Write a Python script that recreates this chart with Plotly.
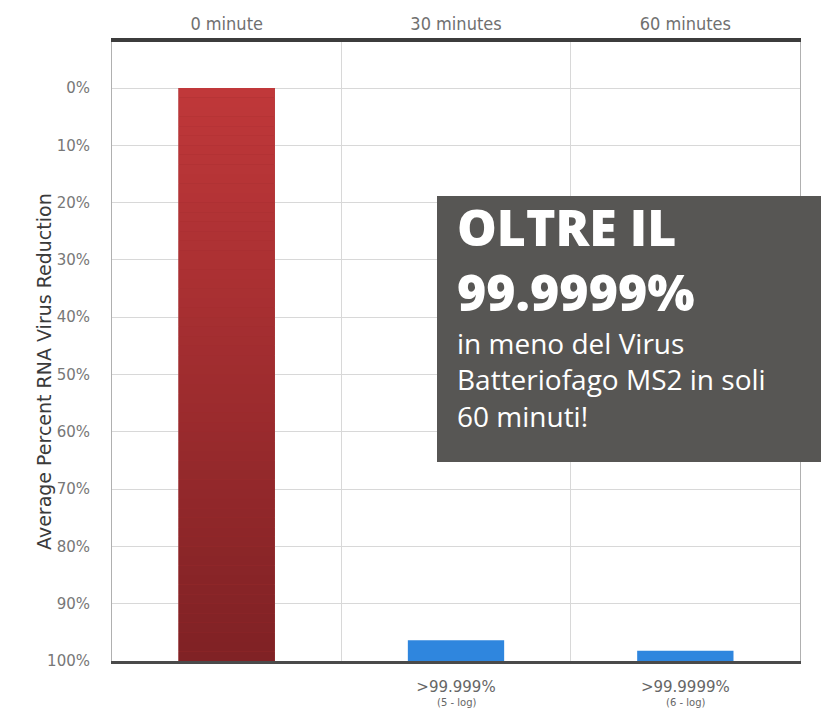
import plotly.graph_objects as go
import numpy as np

categories = ["0 minute", "30 minutes", "60 minutes"]
bar_top = [0.0, 96.4, 98.2]          # visual top of each bar (% reduction axis, 0 at top)
bar_bottom = [100.0, 100.0, 100.0]
bottom_labels = ["", ">99.999%", ">99.9999%"]
bottom_sublabels = ["", "(5 - log)", "(6 - log)"]
y_ticks = [0, 10, 20, 30, 40, 50, 60, 70, 80, 90, 100]

red_top = np.array([0xC0, 0x38, 0x3A])
red_bot = np.array([0x80, 0x22, 0x25])
blue = "#2F86DE"

x_idx = list(range(len(categories)))
fig = go.Figure()

# solid underlay for the red bar (hides seams between gradient segments)
mid = (red_top + red_bot) / 2
fig.add_trace(go.Bar(
    x=[x_idx[0]], base=[bar_top[0]], y=[bar_bottom[0] - bar_top[0]],
    marker=dict(color="rgb(%d,%d,%d)" % tuple(mid.astype(int)), line=dict(width=0)),
    width=0.42, showlegend=False, hoverinfo="skip"))

# red bar vertical gradient, built from segments spanning the bar's own value range
N = 60
edges = np.linspace(bar_top[0], bar_bottom[0], N + 1)
seg_colors = []
for i in range(N):
    f = i / (N - 1)
    c = red_top + (red_bot - red_top) * f
    seg_colors.append("rgb(%d,%d,%d)" % tuple(c.astype(int)))
fig.add_trace(go.Bar(
    x=[x_idx[0]] * N, base=edges[:-1], y=np.diff(edges),
    marker=dict(color=seg_colors, line=dict(width=0)), width=0.42,
    showlegend=False, hoverinfo="skip"))

# blue bars
fig.add_trace(go.Bar(
    x=x_idx[1:], base=bar_top[1:],
    y=[b - t for b, t in zip(bar_bottom[1:], bar_top[1:])],
    marker=dict(color=blue, line=dict(width=0)), width=0.42,
    showlegend=False))

# invisible trace to activate the top axis
fig.add_trace(go.Scatter(x=x_idx, y=[None] * 3, xaxis="x2", mode="markers",
                         showlegend=False, hoverinfo="skip"))

fig.update_layout(
    width=829, height=711,
    margin=dict(l=104, r=37, t=34, b=58),
    paper_bgcolor="white", plot_bgcolor="white",
    barmode="overlay",
    font=dict(family="DejaVu Sans, sans-serif", color="#666"),
    xaxis=dict(range=[-0.5, 2.5], tickvals=x_idx,
               ticktext=[t.replace(">", "&gt;") for t in bottom_labels],
               showgrid=False, zeroline=False, automargin=False,
               showline=True, linecolor="#4a4a4a", linewidth=3,
               ticks="", ticklabelstandoff=10, tickfont=dict(size=15, color="#666"),
               minor=dict(tick0=0.5, dtick=1, showgrid=True, gridcolor="#d8d8d8", gridwidth=1, ticks="")),
    xaxis2=dict(range=[-0.5, 2.5], overlaying="x", side="top", tickvals=x_idx,
                ticktext=categories, showgrid=False, zeroline=False, automargin=False,
                showline=True, linecolor="#3c3c3c", linewidth=4, ticks="",
                ticklabelstandoff=1,
                tickfont=dict(family="DejaVu Sans Condensed, DejaVu Sans", size=18, color="#707070")),
    yaxis=dict(range=[100, -8.03], tickvals=y_ticks, ticktext=["%d%%" % v for v in y_ticks],
               showgrid=True, gridcolor="#d8d8d8", gridwidth=1, zeroline=False, automargin=False,
               showline=True, linecolor="#b0b0b0", linewidth=1, mirror=True,
               ticks="", ticklabelstandoff=18,
               tickfont=dict(size=15, color="#777")),
)

# sub-labels under the bottom tick labels
for xi, s in zip(x_idx, bottom_sublabels):
    if s:
        fig.add_annotation(text=s, xref="x", yref="paper", x=xi, y=(661 - 702) / 619,
                           yanchor="middle", showarrow=False,
                           font=dict(size=10, color="#666"))

fig.add_annotation(text="Average Percent RNA Virus Reduction", textangle=-90,
                   xref="paper", yref="paper", x=(31 - 112) / 688, y=(661 - 372) / 619,
                   showarrow=False,
                   font=dict(family="DejaVu Sans", size=19, color="#3a3a3a"))

# callout box
fig.add_shape(type="rect", xref="paper", yref="paper",
              x0=(437 - 112) / 688, x1=(840 - 112) / 688,
              y0=(661 - 462) / 619, y1=(661 - 196) / 619,
              fillcolor="#575654", line=dict(width=0), layer="above")

bx = (455 - 112) / 688
fig.add_annotation(text="OLTRE IL<br>99.9999%",
                   xref="paper", yref="paper", x=bx, y=(661 - 259) / 619,
                   xanchor="left", yanchor="middle", align="left", showarrow=False,
                   font=dict(family="Open Sans, sans-serif", size=50, weight=800, color="white"))
fig.add_annotation(text="in meno del Virus<br>Batteriofago MS2 in soli<br>60 minuti!",
                   xref="paper", yref="paper", x=bx, y=(661 - 379) / 619,
                   xanchor="left", yanchor="middle", align="left", showarrow=False,
                   font=dict(family="Open Sans, sans-serif", size=28, weight=500, color="white"))

fig.write_html("out.html")
